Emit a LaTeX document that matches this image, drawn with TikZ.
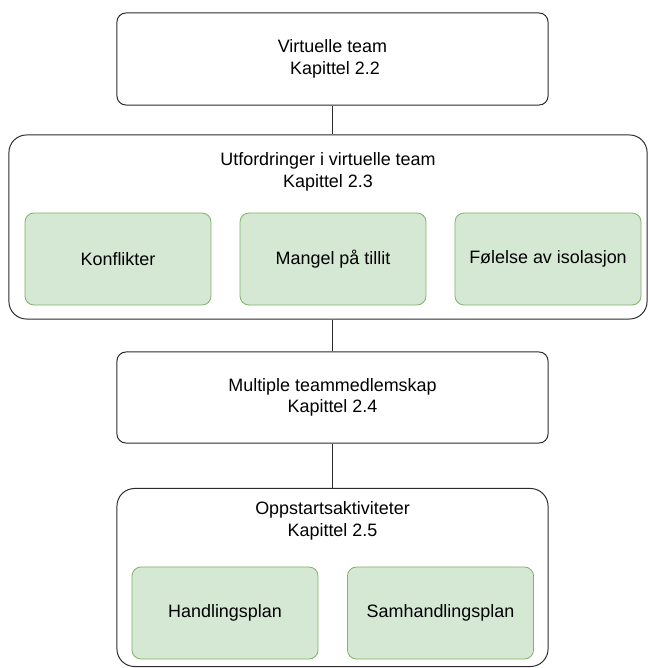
\documentclass[tikz,border=0pt]{standalone}
\usepackage{fontspec}
\setmainfont{Liberation Sans}
\usepackage{tikz}
\definecolor{VTLine}{HTML}{2B2B2B}
\definecolor{VTGreen}{HTML}{D5E8D4}
\definecolor{VTGreenLine}{HTML}{82B366}

\begin{document}
\begin{tikzpicture}[x=0.025cm,y=-0.025cm,
  font=\fontsize{12.75}{15.3}\selectfont,
  chapbox/.style={draw=VTLine,line width=0.7pt,rounded corners=6.4pt,
    minimum width=10.775cm,align=center,inner sep=0pt},
  groupbox/.style={draw=VTLine,line width=0.7pt,rounded corners=12.5pt,inner sep=0pt},
  topicbox/.style={draw=VTGreenLine,fill=VTGreen,line width=0.6pt,rounded corners=6.4pt,
    minimum width=4.65cm,minimum height=2.3cm,inner sep=0pt},
  title/.style={align=center,inner sep=0pt},
  link/.style={draw=VTLine,line width=0.7pt}]
\path[use as bounding box] (0,0) rectangle (648,668);
% Kapittel 2.2
\node[chapbox,minimum height=2.3cm] (team) at (332.5,59) {Virtuelle team\\ \ Kapittel 2.2};
% Kapittel 2.3
\node[groupbox,minimum width=15.95cm,minimum height=4.6cm] (chall) at (328,227) {};
\node[title] (challtitle) at (328,172) {Utfordringer i virtuelle team\\Kapittel 2.3};
\node[topicbox] (conflict) at (118,259) {Konflikter};
\node[topicbox] (trust) at (333,259) {Mangel på tillit};
\node[topicbox] (isolation) at (548,259) {Følelse av isolasjon};
% Kapittel 2.4
\node[chapbox,minimum height=2.275cm] (multi) at (332.5,397.5) {Multiple teammedlemskap\\Kapittel 2.4};
% Kapittel 2.5
\node[groupbox,minimum width=10.775cm,minimum height=4.45cm] (start) at (332.5,577.5) {};
\node[title] (starttitle) at (332.5,521) {Oppstartsaktiviteter\\Kapittel 2.5};
\node[topicbox] (plan) at (225,613) {Handlingsplan};
\node[topicbox] (coplan) at (440.5,613) {Samhandlingsplan};
% connectors
\draw[link] (team.south) -- (team.south |- chall.north);
\draw[link] (multi.north |- chall.south) -- (multi.north);
\draw[link] (multi.south) -- (start.north);
\end{tikzpicture}
\end{document}
